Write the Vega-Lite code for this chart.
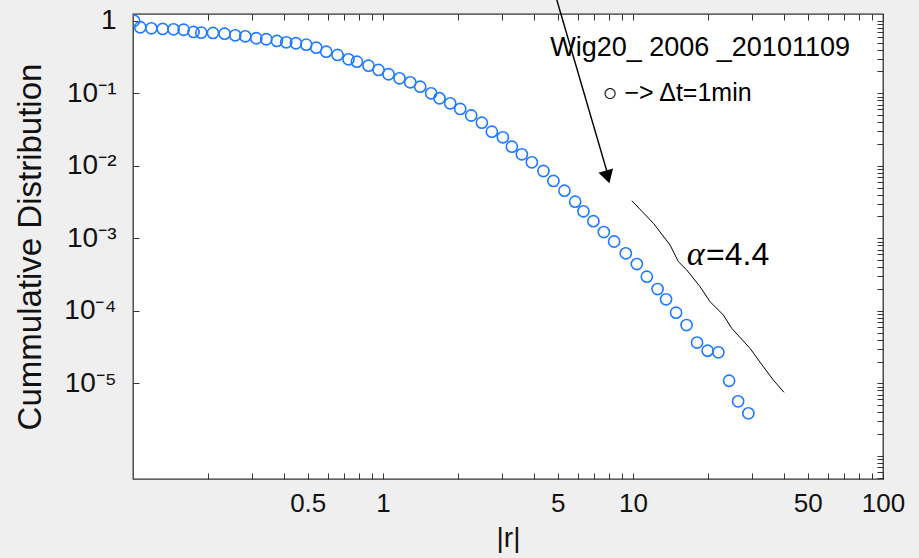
{
  "$schema": "https://vega.github.io/schema/vega-lite/v6.json",
  "width": 750,
  "height": 465,
  "autosize": {"type": "none"},
  "padding": {"left": 133, "top": 14, "right": 36, "bottom": 79},
  "background": "#efefef",
  "config": {
    "font": "Liberation Sans",
    "view": {"fill": "white", "stroke": "#333333", "strokeWidth": 1.3},
    "axis": {
      "domain": false,
      "grid": false,
      "tickColor": "#333333",
      "tickSize": -6,
      "tickWidth": 1,
      "labelFont": "Liberation Sans",
      "labelColor": "#111111",
      "labelOverlap": false,
      "labelFlush": false,
      "titleFont": "Liberation Sans",
      "titleFontWeight": "normal",
      "titleColor": "#111111"
    }
  },
  "datasets": {
    "points": [
      {"r": 0.101, "P": 1.0},
      {"r": 0.1069, "P": 0.814},
      {"r": 0.1184, "P": 0.788},
      {"r": 0.1314, "P": 0.772},
      {"r": 0.1453, "P": 0.762},
      {"r": 0.1594, "P": 0.752},
      {"r": 0.1747, "P": 0.701},
      {"r": 0.1875, "P": 0.686},
      {"r": 0.2089, "P": 0.68},
      {"r": 0.2325, "P": 0.664},
      {"r": 0.2564, "P": 0.631},
      {"r": 0.2812, "P": 0.611},
      {"r": 0.3112, "P": 0.574},
      {"r": 0.3412, "P": 0.556},
      {"r": 0.3764, "P": 0.527},
      {"r": 0.4102, "P": 0.505},
      {"r": 0.4484, "P": 0.49},
      {"r": 0.4931, "P": 0.4685},
      {"r": 0.5407, "P": 0.4257},
      {"r": 0.5929, "P": 0.375},
      {"r": 0.6578, "P": 0.3377},
      {"r": 0.7278, "P": 0.2945},
      {"r": 0.7863, "P": 0.2729},
      {"r": 0.8749, "P": 0.2403},
      {"r": 0.9594, "P": 0.2097},
      {"r": 1.052, "P": 0.183},
      {"r": 1.164, "P": 0.1611},
      {"r": 1.285, "P": 0.1418},
      {"r": 1.408, "P": 0.1234},
      {"r": 1.558, "P": 0.1},
      {"r": 1.682, "P": 0.0854},
      {"r": 1.857, "P": 0.0728},
      {"r": 2.036, "P": 0.0608},
      {"r": 2.253, "P": 0.0494},
      {"r": 2.486, "P": 0.0393},
      {"r": 2.725, "P": 0.02956},
      {"r": 3.016, "P": 0.02473},
      {"r": 3.277, "P": 0.01835},
      {"r": 3.593, "P": 0.01442},
      {"r": 3.939, "P": 0.01118},
      {"r": 4.383, "P": 0.00848},
      {"r": 4.805, "P": 0.00618},
      {"r": 5.318, "P": 0.004537},
      {"r": 5.869, "P": 0.0032},
      {"r": 6.335, "P": 0.002359},
      {"r": 6.945, "P": 0.001722},
      {"r": 7.642, "P": 0.001222},
      {"r": 8.403, "P": 0.000904},
      {"r": 9.359, "P": 0.000621},
      {"r": 10.36, "P": 0.000442},
      {"r": 11.36, "P": 0.0002955},
      {"r": 12.54, "P": 0.0002},
      {"r": 13.56, "P": 0.0001442},
      {"r": 14.87, "P": 0.0000942},
      {"r": 16.38, "P": 0.0000637},
      {"r": 18.04, "P": 0.00003656},
      {"r": 19.88, "P": 0.00002818},
      {"r": 21.95, "P": 0.00002678},
      {"r": 24.23, "P": 0.00001087},
      {"r": 26.33, "P": 0.00000565},
      {"r": 28.94, "P": 0.00000386}
    ],
    "fit": [
      {"r": 9.89, "P": 0.0033},
      {"r": 12.07, "P": 0.001611},
      {"r": 14.07, "P": 0.000809},
      {"r": 15.19, "P": 0.000476},
      {"r": 16.41, "P": 0.0003656},
      {"r": 18.55, "P": 0.000215},
      {"r": 20.34, "P": 0.0001336},
      {"r": 22.99, "P": 0.0000876},
      {"r": 24.83, "P": 0.0000574},
      {"r": 29.39, "P": 0.0000304},
      {"r": 33.22, "P": 0.00001695},
      {"r": 36.42, "P": 0.0000111},
      {"r": 40.2, "P": 0.00000752}
    ],
    "arrow": [
      {"r": 4.958, "P": 1.937},
      {"r": 7.877, "P": 0.00822}
    ],
    "head": [
      {"r": 7.914, "P": 0.00701}
    ],
    "labels": [
      {"r": 18.55, "P": 0.4217, "text": "Wig20_ 2006 _20101109", "size": 27},
      {"r": 15.0, "P": 0.101, "text": "○ −> Δt=1min", "size": 25}
    ],
    "alpha": [
      {"r": 16.41, "P": 0.000428, "text": "α"}
    ],
    "alphaval": [
      {"r": 19.6, "P": 0.000428, "text": "=4.4"}
    ]
  },
  "resolve": {"axis": {"x": "independent", "y": "independent"}},
  "layer": [
    {
      "data": {"name": "points"},
      "mark": {"type": "point", "shape": "circle", "filled": false, "stroke": "#1f7bff", "strokeWidth": 1.6, "size": 125, "opacity": 1, "clip": true},
      "encoding": {
        "x": {
          "field": "r", "type": "quantitative",
          "scale": {"type": "log", "domain": [0.1, 100], "nice": false},
          "axis": {
            "orient": "bottom",
            "values": [0.2, 0.3, 0.4, 0.5, 0.6, 0.7, 0.8, 0.9, 1, 2, 3, 4, 5, 6, 7, 8, 9, 10, 20, 30, 40, 50, 60, 70, 80, 90, 100],
            "labelExpr": "(datum.value == 0.5 || datum.value == 1 || datum.value == 5 || datum.value == 10 || datum.value == 50 || datum.value == 100) ? ('' + datum.value) : ''",
            "labelFontSize": 26,
            "labelPadding": 17,
            "title": "|r|",
            "titleFontSize": 28,
            "titlePadding": 8
          }
        },
        "y": {
          "field": "P", "type": "quantitative",
          "scale": {"type": "log", "domain": [4.8e-7, 1.24], "nice": false},
          "axis": {
            "orient": "left",
            "values": [1, 0.1, 0.01, 0.001, 0.0001, 0.00001],
            "labelExpr": "datum.value > 0.5 ? '1' : '10' + ['⁰','⁻¹','⁻²','⁻³','⁻⁴','⁻⁵','⁻⁶'][round(-log(datum.value)/LN10)]",
            "labelFontSize": 28,
            "labelPadding": 23,
            "title": "Cummulative Distribution",
            "titleFontSize": 33,
            "titlePadding": 16
          }
        }
      }
    },
    {
      "data": {"name": "fit"},
      "mark": {"type": "line", "color": "#000000", "strokeWidth": 1, "clip": true},
      "encoding": {
        "x": {
          "field": "r", "type": "quantitative",
          "scale": {"type": "log", "domain": [0.1, 100], "nice": false},
          "axis": {
            "orient": "top",
            "values": [0.2, 0.3, 0.4, 0.5, 0.6, 0.7, 0.8, 0.9, 1, 2, 3, 4, 5, 6, 7, 8, 9, 10, 20, 30, 40, 50, 60, 70, 80, 90, 100],
            "labels": false,
            "title": null
          }
        },
        "y": {
          "field": "P", "type": "quantitative",
          "scale": {"type": "log", "domain": [4.8e-7, 1.24], "nice": false},
          "axis": {
            "orient": "right",
            "values": [5e-7, 6e-7, 7e-7, 8e-7, 9e-7, 1e-6, 2e-6, 3e-6, 4e-6, 5e-6, 6e-6, 7e-6, 8e-6, 9e-6, 1e-5, 2e-5, 3e-5, 4e-5, 5e-5, 6e-5, 7e-5, 8e-5, 9e-5, 1e-4, 2e-4, 3e-4, 4e-4, 5e-4, 6e-4, 7e-4, 8e-4, 9e-4, 0.001, 0.002, 0.003, 0.004, 0.005, 0.006, 0.007, 0.008, 0.009, 0.01, 0.02, 0.03, 0.04, 0.05, 0.06, 0.07, 0.08, 0.09, 0.1, 0.2, 0.3, 0.4, 0.5, 0.6, 0.7, 0.8, 0.9, 1],
            "labels": false,
            "title": null
          }
        }
      }
    },
    {
      "data": {"name": "arrow"},
      "mark": {"type": "line", "color": "#000000", "strokeWidth": 1.4, "clip": false},
      "encoding": {
        "x": {"field": "r", "type": "quantitative", "scale": {"type": "log", "domain": [0.1, 100], "nice": false}, "axis": null},
        "y": {"field": "P", "type": "quantitative", "scale": {"type": "log", "domain": [4.8e-7, 1.24], "nice": false}, "axis": null}
      }
    },
    {
      "data": {"name": "head"},
      "mark": {"type": "point", "shape": "triangle-down", "filled": true, "color": "#000000", "opacity": 1, "size": 230, "angle": -16, "clip": false},
      "encoding": {
        "x": {"field": "r", "type": "quantitative", "scale": {"type": "log", "domain": [0.1, 100], "nice": false}, "axis": null},
        "y": {"field": "P", "type": "quantitative", "scale": {"type": "log", "domain": [4.8e-7, 1.24], "nice": false}, "axis": null}
      }
    },
    {
      "data": {"name": "labels"},
      "mark": {"type": "text", "font": "Liberation Sans", "color": "#000000", "align": "center", "baseline": "middle"},
      "encoding": {
        "x": {"field": "r", "type": "quantitative", "scale": {"type": "log", "domain": [0.1, 100], "nice": false}, "axis": null},
        "y": {"field": "P", "type": "quantitative", "scale": {"type": "log", "domain": [4.8e-7, 1.24], "nice": false}, "axis": null},
        "text": {"field": "text"},
        "size": {"field": "size", "type": "quantitative", "scale": null}
      }
    },
    {
      "data": {"name": "alpha"},
      "mark": {"type": "text", "font": "Liberation Serif", "fontStyle": "italic", "fontSize": 34, "color": "#000000", "align": "left", "baseline": "alphabetic"},
      "encoding": {
        "x": {"field": "r", "type": "quantitative", "scale": {"type": "log", "domain": [0.1, 100], "nice": false}, "axis": null},
        "y": {"field": "P", "type": "quantitative", "scale": {"type": "log", "domain": [4.8e-7, 1.24], "nice": false}, "axis": null},
        "text": {"field": "text"}
      }
    },
    {
      "data": {"name": "alphaval"},
      "mark": {"type": "text", "font": "Liberation Sans", "fontSize": 32, "color": "#000000", "align": "left", "baseline": "alphabetic"},
      "encoding": {
        "x": {"field": "r", "type": "quantitative", "scale": {"type": "log", "domain": [0.1, 100], "nice": false}, "axis": null},
        "y": {"field": "P", "type": "quantitative", "scale": {"type": "log", "domain": [4.8e-7, 1.24], "nice": false}, "axis": null},
        "text": {"field": "text"}
      }
    }
  ]
}
